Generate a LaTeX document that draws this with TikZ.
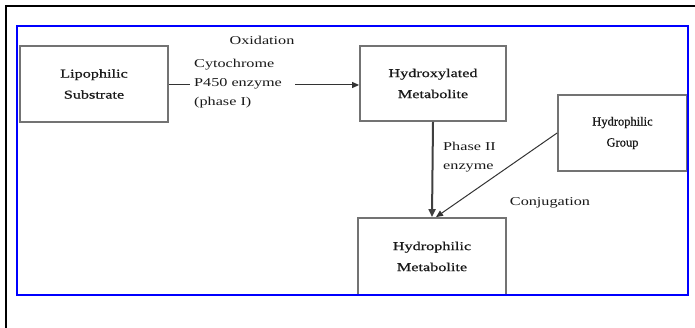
\documentclass[tikz,border=0pt]{standalone}
\usepackage{fontspec}
\setmainfont{Liberation Serif}[FakeStretch=1.35]
\newfontfamily\boxfont{Liberation Serif}[FakeStretch=1.35,FakeBold=0.8]
\newfontfamily\narrowfont{Liberation Serif}[FakeBold=0.8]
\usetikzlibrary{arrows.meta}
\begin{document}
\begin{tikzpicture}[x=1pt,y=-1pt,
  boxnode/.style={draw=black!55,line width=1.8pt,minimum width=#1,inner sep=0pt,align=center,
    font=\boxfont\fontsize{12}{21}\selectfont,text=black!90},
  boxnode/.default=148pt,
  lbl/.style={font=\fontsize{12}{19}\selectfont,text=black!90,inner sep=0pt},
  conn/.style={draw=black!80,line width=1pt,-{Triangle[length=7pt,width=6pt]}},
  thick conn/.style={draw=black!75,line width=2pt,-{Triangle[length=8pt,width=7pt]}}]
\useasboundingbox (0,0) rectangle (695,328);
\draw[line width=1.2pt,black] (6,340) -- (6,6) -- (705,6);
\node[boxnode=148pt,minimum height=76pt] (lip) at (94,84) {Lipophilic\\Substrate};
\node[boxnode=146pt,minimum height=75pt] (hyd) at (433,83.5) {Hydroxylated\\Metabolite};
\node[boxnode=129pt,minimum height=76pt,font=\narrowfont\fontsize{12.5}{21}\selectfont] (grp) at (622.5,133) {Hydrophilic\\Group};
\node[boxnode=148pt,minimum height=77pt] (met) at (432,256.5) {Hydrophilic\\Metabolite};
\node[lbl] (ox) at (262,40) {Oxidation};
\node[lbl,anchor=west,align=left] (cyp) at (194,84) {Cytochrome\\P450 enzyme\\(phase I)};
\node[lbl,anchor=west,align=left] (ph2) at (443,157) {Phase II\\enzyme};
\node[lbl] (conj) at (550,203) {Conjugation};
\draw[draw=black!80,line width=1pt] (lip.east |- 0,85) -- (190,85);
\draw[conn] (295,85) -- (hyd.west |- 0,85);
\draw[thick conn] (hyd.south) -- (met.north);
\draw[conn] (grp.west) -- ([xshift=4pt]met.north);
\draw[blue,line width=2.2pt] (17,26) rectangle (688,295);
\end{tikzpicture}
\end{document}
